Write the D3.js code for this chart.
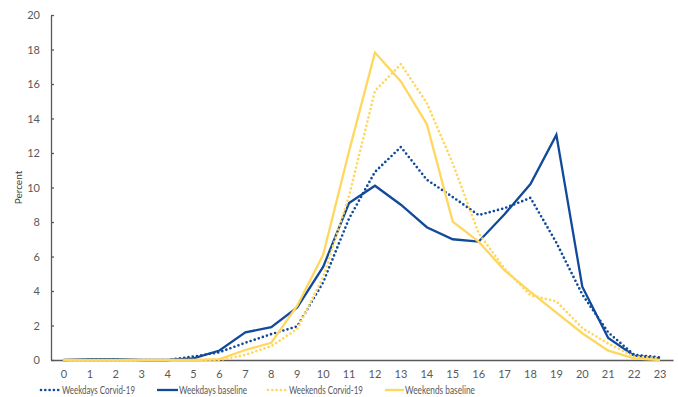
<!DOCTYPE html>
<html>
<head>
<meta charset="utf-8">
<script src="https://cdn.jsdelivr.net/npm/d3@7"></script>
<style>
  body { margin: 0; background: #fff; }
  svg { display: block; font-family: Lato, "Open Sans", sans-serif; }
</style>
</head>
<body>
<svg id="chart" width="678" height="397"></svg>
<script>
const hours = [0,1,2,3,4,5,6,7,8,9,10,11,12,13,14,15,16,17,18,19,20,21,22,23];
const weekdaysCovid    = [0,0,0,0,0,0.2,0.45,1.0,1.5,1.95,4.5,8.2,10.9,12.35,10.45,9.45,8.4,8.8,9.4,6.8,3.8,1.6,0.3,0.15];
const weekdaysBaseline = [0,0.05,0.05,0,0,0.1,0.55,1.6,1.9,3.05,5.4,9.1,10.1,9.0,7.7,7.0,6.86,8.45,10.2,13.05,4.25,1.28,0.25,0.1];
const weekendsCovid    = [0,0,0,0,0,0,0,0.3,0.8,1.8,4.8,9.5,15.6,17.15,14.9,11.4,7.35,5.3,3.75,3.4,1.85,0.95,0.2,0.1];
const weekendsBaseline = [0,0,0,0,0,0,0.05,0.58,1.0,3.15,6.1,12.1,17.82,16.15,13.68,8.02,6.86,5.2,3.95,2.75,1.55,0.54,0.1,0];
const yTicks = [0,2,4,6,8,10,12,14,16,18,20];
const seriesNames = ["Weekdays Corvid-19","Weekdays baseline","Weekends Corvid-19","Weekends baseline"];

const BLUE = "#114a9b", GOLD = "#ffd75e";
const series = [
  {name: seriesNames[0], values: weekdaysCovid, color: BLUE, dotted: true},
  {name: seriesNames[1], values: weekdaysBaseline, color: BLUE, dotted: false},
  {name: seriesNames[2], values: weekendsCovid, color: GOLD, dotted: true},
  {name: seriesNames[3], values: weekendsBaseline, color: GOLD, dotted: false}
];

const svg = d3.select("#chart");
const mLeft = 51, mRight = 673, mTop = 15, mBottom = 360;

const x = d3.scaleBand().domain(hours).range([mLeft, mRight]);
const y = d3.scaleLinear().domain([0, 20]).range([mBottom, mTop]);
const cx = h => x(h) + x.bandwidth() / 2;

// y axis
const yAxis = svg.append("g").attr("transform", `translate(${mLeft},0)`)
  .call(d3.axisLeft(y).tickValues(yTicks).tickSizeInner(-3).tickSizeOuter(0).tickPadding(11));
yAxis.select(".domain").attr("stroke", "#595959").attr("stroke-width", 1.3);
yAxis.selectAll(".tick line").attr("stroke", "#595959").attr("stroke-width", 1.3);
yAxis.selectAll(".tick text").attr("fill", "#595959").style("font-size", "11px")
  .style("font-family", "Lato, 'Open Sans', sans-serif");

// x axis
const xAxis = svg.append("g").attr("transform", `translate(0,${mBottom})`)
  .call(d3.axisBottom(x).tickSize(0).tickPadding(10));
xAxis.select(".domain").attr("stroke", "#595959").attr("stroke-width", 1.5);
xAxis.selectAll(".tick text").attr("fill", "#595959").style("font-size", "11px")
  .style("font-family", "Lato, 'Open Sans', sans-serif");

// y label
svg.append("text")
  .attr("transform", `translate(22,${(mTop + mBottom) / 2}) rotate(-90)`)
  .attr("text-anchor", "middle")
  .attr("fill", "#404040")
  .style("font-size", "10px")
  .text("Percent");

// lines
const line = d3.line().x((d, i) => cx(hours[i])).y(d => y(d));
series.forEach(s => {
  const p = svg.append("path")
    .datum(s.values)
    .attr("fill", "none")
    .attr("stroke", s.color)
    .attr("stroke-linejoin", "miter")
    .attr("d", line);
  if (s.dotted) {
    p.attr("stroke-width", 2.7).attr("stroke-dasharray", "0 4.3").attr("stroke-linecap", "round");
  } else {
    p.attr("stroke-width", 2.3);
  }
});

// legend
const legendItems = [
  {x0: 41, x1: 59, tx: 62, w: 73},
  {x0: 157, x1: 178, tx: 179, w: 68},
  {x0: 268, x1: 286, tx: 289, w: 74},
  {x0: 385, x1: 404, tx: 405, w: 70}
];
const ly = 390;
series.forEach((s, i) => {
  const li = legendItems[i];
  const l = svg.append("line")
    .attr("x1", li.x0).attr("x2", li.x1).attr("y1", ly).attr("y2", ly)
    .attr("stroke", s.color);
  if (s.dotted) l.attr("stroke-width", 2.7).attr("stroke-dasharray", "0 4.3").attr("stroke-linecap", "round");
  else l.attr("stroke-width", 2.3);
  svg.append("text")
    .attr("x", li.tx).attr("y", ly).attr("dy", "0.35em")
    .attr("fill", "#595959")
    .style("font-family", "'Liberation Sans Narrow', Lato, sans-serif")
    .style("font-size", "11px")
    .attr("textLength", li.w)
    .attr("lengthAdjust", "spacingAndGlyphs")
    .text(s.name);
});
</script>
</body>
</html>
